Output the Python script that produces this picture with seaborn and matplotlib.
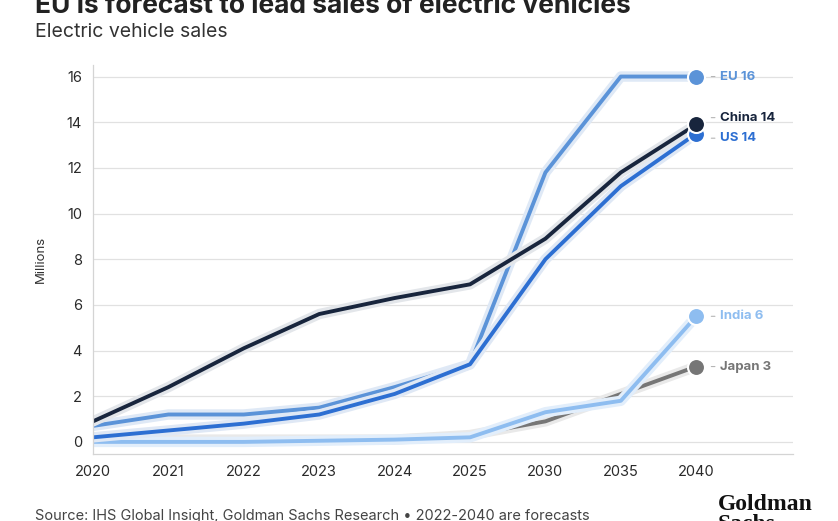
import matplotlib.pyplot as plt
import matplotlib.patheffects as pe
import pandas as pd
import seaborn as sns

years = ['2020', '2021', '2022', '2023', '2024', '2025', '2030', '2035', '2040']
countries = ['Japan', 'India', 'EU', 'US', 'China']
japan = [0.1, 0.1, 0.1, 0.1, 0.1, 0.3, 0.9, 2.1, 3.3]
india = [0.0, 0.0, 0.0, 0.05, 0.1, 0.2, 1.3, 1.8, 5.5]
eu = [0.7, 1.2, 1.2, 1.5, 2.4, 3.4, 11.8, 16.0, 16.0]
us = [0.2, 0.5, 0.8, 1.2, 2.1, 3.4, 8.0, 11.2, 13.5]
china = [0.9, 2.4, 4.1, 5.6, 6.3, 6.9, 8.9, 11.8, 13.9]
end_labels = ['Japan 3', 'India 6', 'EU 16', 'US 14', 'China 14']
label_y = [3.3, 5.5, 16.0, 13.3, 14.2]

colors = {'Japan': '#767676', 'India': '#8ebdf0', 'EU': '#5b93d8',
          'US': '#2d6fd2', 'China': '#18253d'}
halos = {'Japan': '#e9e9e9', 'India': '#e2eefb', 'EU': '#dfe9f6',
         'US': '#dfe8f5', 'China': '#e3e6ea'}


def main():
    sns.set_style('white')
    plt.rcParams['font.family'] = ['Inter', 'DejaVu Sans']

    series = [japan, india, eu, us, china]
    rows = []
    for c, vals in zip(countries, series):
        for i, v in enumerate(vals):
            rows.append({'pos': i, 'year': years[i], 'country': c, 'sales': v})
    df = pd.DataFrame(rows)

    fig = plt.figure(figsize=(8.38, 5.21), dpi=100)
    ax = fig.add_axes([0.111, 0.1286, 0.835, 0.7464])

    for c in countries:
        d = df[df['country'] == c]
        sns.lineplot(data=d, x='pos', y='sales', color=colors[c], linewidth=2.8,
                     ax=ax, solid_capstyle='round', solid_joinstyle='round',
                     path_effects=[pe.Stroke(linewidth=7.5, foreground=halos[c]), pe.Normal()])

    last = df[df['pos'] == len(years) - 1]
    for c in countries:
        r = last[last['country'] == c]
        sns.scatterplot(data=r, x='pos', y='sales', color=colors[c], s=150,
                        edgecolor='white', linewidth=1.5, ax=ax, zorder=5)

    for c, lab, ly in zip(countries, end_labels, label_y):
        ax.annotate(lab, xy=(len(years) - 1 + 0.2, ly), xytext=(len(years) - 1 + 0.31, ly),
                    color=colors[c], fontsize=9.5, fontweight='bold', va='center', ha='left',
                    arrowprops=dict(arrowstyle='-', color='#b5b5b5', lw=0.8,
                                    shrinkA=1, shrinkB=0))

    ax.set_xlim(0, 9.28)
    ax.set_ylim(-0.53, 16.5)
    ax.set_xticks(range(len(years)))
    ax.set_xticklabels(years)
    ax.set_yticks(range(0, 17, 2))
    ax.set_xlabel('')
    ax.set_ylabel('Millions', fontsize=9.5, color='#333333', labelpad=14)
    ax.tick_params(axis='both', labelsize=10.5, colors='#2a2a2a', length=3,
                   color='#cccccc', pad=5)
    ax.grid(axis='y', color='#e1e1e1', linewidth=0.9)
    ax.set_axisbelow(True)
    for s in ['top', 'right']:
        ax.spines[s].set_visible(False)
    for s in ['left', 'bottom']:
        ax.spines[s].set_color('#d4d4d4')
        ax.spines[s].set_linewidth(0.9)

    fig.text(0.042, 1 - 13 / 521, 'EU is forecast to lead sales of electric vehicles',
             fontsize=19, fontweight='bold', color='#222222', va='baseline')
    fig.text(0.042, 1 - 32 / 521, 'Electric vehicle sales', fontsize=14,
             color='#333333', va='center')
    fig.text(0.042, 1 - 509 / 521,
             'Source: IHS Global Insight, Goldman Sachs Research \u2022 2022-2040 are forecasts',
             fontsize=10.5, color='#444444', va='top')
    fig.text(0.857, 1 - 494 / 521, 'Goldman\nSachs', family='Liberation Serif',
             fontsize=17, fontweight='bold', color='#111111', va='top',
             linespacing=0.95)

    plt.savefig('out.png', dpi=100)


if __name__ == '__main__':
    main()
